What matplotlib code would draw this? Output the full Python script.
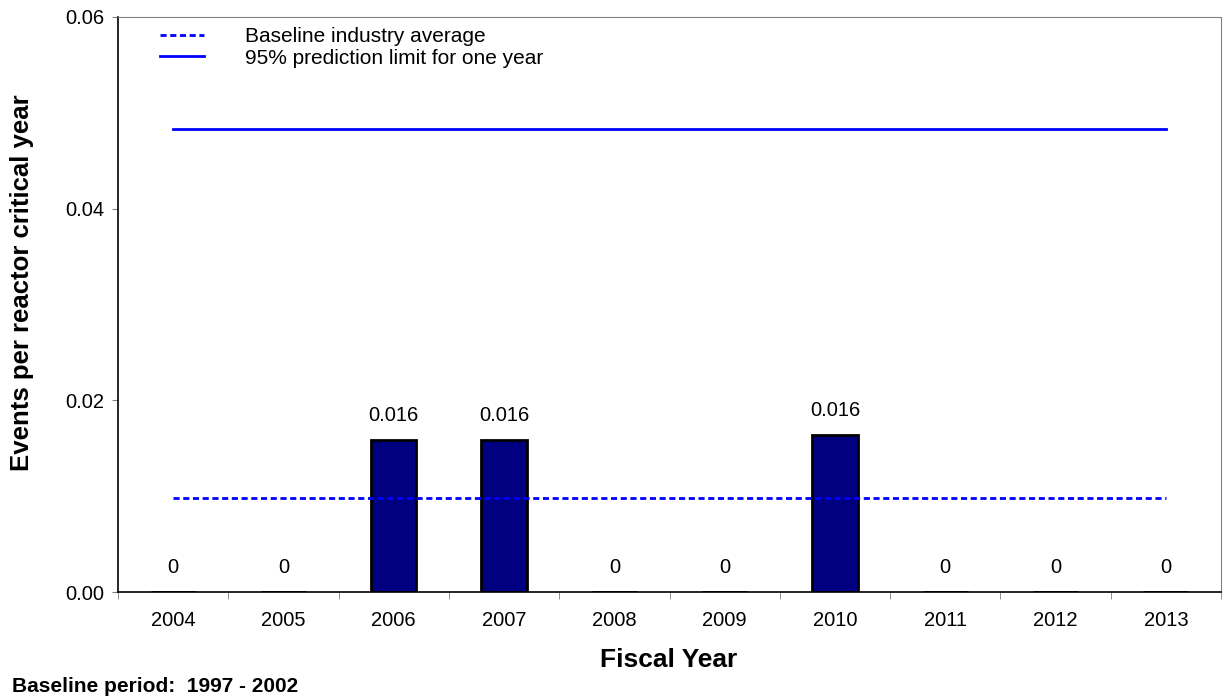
import numpy as np
import matplotlib.pyplot as plt

plt.rcParams['font.family'] = ['Liberation Sans', 'DejaVu Sans']

# data
years = ['2004', '2005', '2006', '2007', '2008', '2009', '2010', '2011', '2012', '2013']
rates = [0.0, 0.0, 0.01585, 0.01585, 0.0, 0.0, 0.01635, 0.0, 0.0, 0.0]
value_labels = ['0', '0', '0.016', '0.016', '0', '0', '0.016', '0', '0', '0']
baseline_avg = 0.0098
prediction_limit = 0.0483

W, H = 1224, 700
fig = plt.figure(figsize=(W / 100, H / 100), dpi=100)
ax = fig.add_axes([118 / W, 1 - 592 / H, (1221 - 118) / W, (592 - 17) / H])

x = np.arange(len(years))
ax.bar(x, rates, width=0.41, color='#000080', edgecolor='black', linewidth=2, zorder=2)

ax.plot(x, [baseline_avg] * len(x), color='#0000ff', linestyle=(0, (2.2, 1.3)), linewidth=2,
        label='Baseline industry average', zorder=3)
ax.plot(x, [prediction_limit] * len(x), color='#0000ff', linestyle='-', linewidth=2,
        label='95% prediction limit for one year', zorder=3)

for xi, val, lab in zip(x, rates, value_labels):
    ax.annotate(lab, (xi, val), xytext=(0, 11), textcoords='offset points',
                ha='center', va='bottom', fontsize=14.5)

ax.set_xlim(-0.5, len(years) - 0.5)
ax.set_ylim(0, 0.06)
ax.set_yticks([0.0, 0.02, 0.04, 0.06])
ax.set_yticklabels(['0.00', '0.02', '0.04', '0.06'], fontsize=14.5)
ax.set_xticks(x)
ax.set_xticklabels(years, fontsize=14.5)
ax.set_xticks(np.arange(-0.5, len(years)), minor=True)
ax.tick_params(axis='x', which='major', length=0, pad=14)
ax.tick_params(axis='x', which='minor', length=5, color='#808080')
ax.tick_params(axis='y', length=4, direction='out', pad=6, color='#808080')

for side in ['top', 'right']:
    ax.spines[side].set_color('#808080')
for side in ['left', 'bottom']:
    ax.spines[side].set_color('black')
    ax.spines[side].set_linewidth(1.2)

fig.text(669 / W, 1 - 660 / H, 'Fiscal Year', fontsize=19, fontweight='bold',
         ha='center', va='center')
fig.text(22 / W, 1 - 283 / H, 'Events per reactor critical year', fontsize=18.5,
         fontweight='bold', rotation=90, ha='center', va='center')

ax.legend(loc='upper left', bbox_to_anchor=(160 / W, 1 - 27 / H),
          bbox_transform=fig.transFigure, frameon=False, fontsize=15,
          borderpad=0, borderaxespad=0,
          handlelength=2.1, handletextpad=2.0, labelspacing=0.12)

fig.text(12 / W, 1 - 686 / H, 'Baseline period:  1997 - 2002', fontsize=15,
         fontweight='bold', va='center', ha='left')

fig.savefig('out.png', dpi=100)
